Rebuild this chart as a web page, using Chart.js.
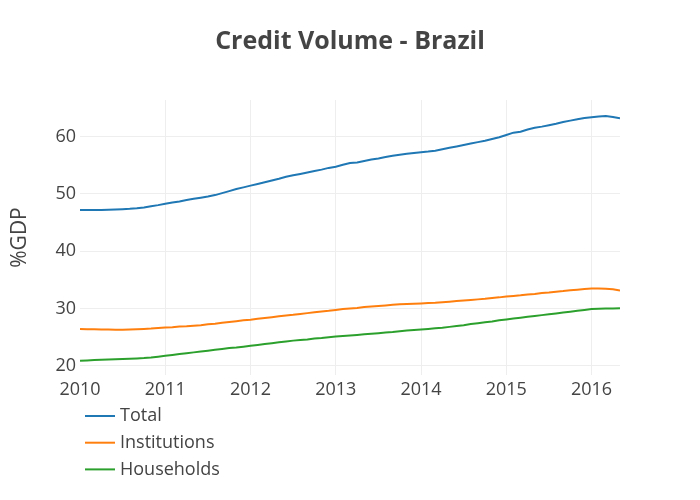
<!DOCTYPE html>
<html>
<head>
<meta charset="utf-8">
<script src="https://cdn.jsdelivr.net/npm/chart.js@4"></script>
<style>
  html, body { margin: 0; padding: 0; background: #fff; }
  #wrap { width: 700px; height: 500px; position: relative; }
</style>
</head>
<body>
<div id="wrap"><canvas id="credit"></canvas></div>
<script>
// monthly series, Jan 2010 .. May 2016 (%GDP)
const startYear = 2010;
const seriesNames = ["Total", "Institutions", "Households"];
const seriesColors = ["#1f77b4", "#ff7f0e", "#2ca02c"];

const total = [
  47.2, 47.2, 47.2, 47.2, 47.25, 47.3, 47.35, 47.4, 47.5, 47.65, 47.85, 48.05,
  48.3, 48.5, 48.7, 48.95, 49.15, 49.35, 49.55, 49.8, 50.15, 50.5, 50.85, 51.15,
  51.45, 51.75, 52.05, 52.35, 52.65, 53.0, 53.25, 53.5, 53.75, 54.0, 54.25, 54.55,
  54.75, 55.1, 55.4, 55.5, 55.75, 56.0, 56.2, 56.45, 56.65, 56.85, 57.0, 57.15,
  57.3, 57.4, 57.55, 57.8, 58.05, 58.3, 58.55, 58.8, 59.05, 59.3, 59.6, 59.9,
  60.3, 60.7, 60.85, 61.25, 61.55, 61.75, 62.0, 62.25, 62.55, 62.8, 63.05, 63.25,
  63.4, 63.5, 63.6, 63.45, 63.2,
];
const institutions = [
  26.45, 26.4, 26.4, 26.35, 26.35, 26.3, 26.3, 26.35, 26.4, 26.45, 26.5, 26.6,
  26.7, 26.75, 26.85, 26.9, 27.0, 27.1, 27.25, 27.35, 27.5, 27.65, 27.8, 27.95,
  28.05, 28.2, 28.35, 28.5, 28.65, 28.8, 28.9, 29.05, 29.2, 29.35, 29.5, 29.6,
  29.75, 29.9, 30.0, 30.1, 30.25, 30.35, 30.45, 30.55, 30.65, 30.75, 30.8, 30.85,
  30.9, 30.95, 31.0, 31.1, 31.2, 31.3, 31.4, 31.5, 31.6, 31.7, 31.85, 31.95,
  32.1, 32.2, 32.3, 32.45, 32.55, 32.7, 32.8, 32.95, 33.05, 33.2, 33.3, 33.4,
  33.5, 33.5, 33.45, 33.35, 33.15,
];
const households = [
  20.9, 20.95, 21.0, 21.05, 21.1, 21.15, 21.2, 21.25, 21.3, 21.35, 21.45, 21.6,
  21.75, 21.9, 22.05, 22.2, 22.35, 22.5, 22.65, 22.8, 22.95, 23.1, 23.2, 23.35,
  23.5, 23.65, 23.8, 23.95, 24.1, 24.25, 24.4, 24.5, 24.6, 24.75, 24.85, 25.0,
  25.1, 25.2, 25.3, 25.4, 25.5, 25.6, 25.7, 25.8, 25.9, 26.05, 26.15, 26.25,
  26.35, 26.45, 26.55, 26.65, 26.8, 26.95, 27.1, 27.3, 27.45, 27.6, 27.75, 27.95,
  28.1, 28.25, 28.4, 28.55, 28.7, 28.85, 29.0, 29.15, 29.3, 29.45, 29.6, 29.75,
  29.9, 29.95, 30.0, 30.0, 30.05,
];

const xTicks = [2010, 2011, 2012, 2013, 2014, 2015, 2016];
const yTicks = [20, 30, 40, 50, 60];

const textColor = "#444";
const fontFamily = "'Open Sans', sans-serif";

function toPoints(values) {
  return values.map((v, i) => ({ x: startYear + i / 12, y: v }));
}

const datasets = [total, institutions, households].map((values, i) => ({
  label: seriesNames[i],
  data: toPoints(values),
  borderColor: seriesColors[i],
  backgroundColor: seriesColors[i],
  borderWidth: 2,
  pointRadius: 0,
  tension: 0,
}));

// plotly-like vertical legend under the plot
const stackedLegend = {
  id: "stackedLegend",
  afterDraw(chart) {
    const ctx = chart.ctx;
    ctx.save();
    ctx.font = "18px " + fontFamily;
    ctx.textBaseline = "middle";
    ctx.textAlign = "left";
    chart.data.datasets.forEach((ds, i) => {
      const y = 416 + i * 26.7;
      ctx.strokeStyle = ds.borderColor;
      ctx.lineWidth = 2;
      ctx.beginPath();
      ctx.moveTo(85, y);
      ctx.lineTo(115, y);
      ctx.stroke();
      ctx.fillStyle = textColor;
      ctx.fillText(ds.label, 120, y);
    });
    ctx.restore();
  },
};

new Chart(document.getElementById("credit"), {
  type: "line",
  data: { datasets: datasets },
  options: {
    responsive: true,
    maintainAspectRatio: false,
    animation: false,
    layout: { padding: 0 },
    plugins: {
      legend: { display: false },
      tooltip: { enabled: false },
      title: {
        display: true,
        text: "Credit Volume - Brazil",
        color: textColor,
        font: { family: fontFamily, size: 25, weight: "bold", lineHeight: 1.2 },
        padding: { top: 27, bottom: 43 },
      },
    },
    scales: {
      x: {
        type: "linear",
        min: 2010,
        max: 2016 + 4 / 12,
        afterBuildTicks: (axis) => {
          axis.ticks = xTicks.map((v) => ({ value: v }));
        },
        afterFit: (axis) => {
          axis.height = 125;
        },
        border: { display: false },
        grid: {
          drawTicks: false,
          color: (c) => (c.tick && c.tick.value === 2010 ? "rgba(0,0,0,0)" : "#eee"),
        },
        ticks: {
          padding: 4,
          color: textColor,
          font: { family: fontFamily, size: 18 },
          maxRotation: 0,
          callback: (v) => String(v),
        },
      },
      y: {
        min: 18.4,
        max: 66.4,
        afterBuildTicks: (axis) => {
          axis.ticks = yTicks.map((v) => ({ value: v }));
        },
        afterFit: (axis) => {
          axis.width = 80;
        },
        border: { display: false },
        grid: { drawTicks: false, color: "#eee" },
        ticks: {
          padding: 4,
          color: textColor,
          font: { family: fontFamily, size: 18 },
        },
        title: {
          display: true,
          text: "%GDP",
          color: textColor,
          font: { family: fontFamily, size: 21 },
          padding: { top: 7, bottom: 0 },
        },
      },
      // empty right margin so the title stays centred on the page
      yRight: {
        position: "right",
        afterFit: (axis) => {
          axis.width = 80;
        },
        border: { display: false },
        grid: { display: false },
        ticks: { display: false },
      },
    },
  },
  plugins: [stackedLegend],
});
</script>
</body>
</html>
